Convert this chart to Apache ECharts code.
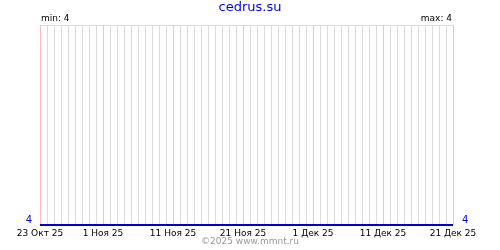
<!DOCTYPE html>
<html><head><meta charset="utf-8">
<script src="https://cdn.jsdelivr.net/npm/echarts@6/dist/echarts.min.js"></script>
<style>html,body{margin:0;padding:0;background:#fff}#c{width:500px;height:250px}</style>
</head><body><div id="c"></div>
<script>
const monthNames = ['Янв','Фев','Мар','Апр','Май','Июн','Июл','Авг','Сен','Окт','Ноя','Дек'];
const startDate = [2025, 9, 23]; // 23 Oct 2025
const dayCount = 60;             // 23 Oct .. 21 Dec
const categories = [];
for (let i = 0; i < dayCount; i++) {
  const d = new Date(Date.UTC(startDate[0], startDate[1], startDate[2] + i));
  categories.push(d.getUTCDate() + ' ' + monthNames[d.getUTCMonth()] + ' ' + String(d.getUTCFullYear()).slice(2));
}
const values = [4,4,4,4,4,4,4,4,4,4, 4,4,4,4,4,4,4,4,4,4, 4,4,4,4,4,4,4,4,4,4,
                4,4,4,4,4,4,4,4,4,4, 4,4,4,4,4,4,4,4,4,4, 4,4,4,4,4,4,4,4,4,4];
const tickLabels = ['23 Окт 25','1 Ноя 25','11 Ноя 25','21 Ноя 25','1 Дек 25','11 Дек 25','21 Дек 25'];
const titleText = 'cedrus.su';
const minText = 'min: 4';
const maxText = 'max: 4';
const footerText = '©2025 www.mmnt.ru';
const yMin = 4, yMax = 5;

const F = 'DejaVu Sans';
const isLabelDay = (i, name) => tickLabels.includes(name !== undefined ? name : categories[i]);
const chart = echarts.init(document.getElementById('c'), null, {renderer: 'canvas'});
chart.setOption({
  animation: false,
  backgroundColor: '#fff',
  grid: {left: 40, right: 47, top: 25, bottom: 25},
  graphic: [
    {type: 'text', left: 'center', top: 1, style: {text: titleText, fill: '#0000ee', font: '13px "' + F + '"'}},
    {type: 'text', left: 41, top: 14, style: {text: minText, fill: '#000', font: '9px "' + F + '"'}},
    {type: 'text', right: 48, top: 14, style: {text: maxText, fill: '#000', font: '9px "' + F + '"'}},
    {type: 'text', left: 'center', top: 237, style: {text: footerText, fill: '#999', font: '9px "' + F + '"'}}
  ],
  xAxis: [{
    type: 'category', data: categories, boundaryGap: false, position: 'bottom',
    axisLine: {show: false}, axisTick: {show: false},
    axisLabel: {
      interval: isLabelDay,
      showMinLabel: true, showMaxLabel: true, hideOverlap: false,
      color: '#000', fontFamily: F, fontSize: 9, margin: 4
    },
    splitLine: {show: true, interval: 0, lineStyle: {color: '#dcdcdc', width: 1}}
  }, {
    type: 'category', data: categories, boundaryGap: false, position: 'top',
    axisLine: {show: false}, axisTick: {show: false}, axisLabel: {show: false},
    splitLine: {show: true, interval: isLabelDay, lineStyle: {color: '#ffbcbc', width: 1}}
  }],
  yAxis: [
    {type: 'value', min: yMin, max: yMax, interval: 1, position: 'left',
     axisLine: {show: false}, axisTick: {show: false},
     axisLabel: {formatter: v => v === yMin ? String(v) : '', color: '#0000dd', fontFamily: F, fontSize: 10, margin: 8, verticalAlign: 'bottom', lineHeight: 10},
     splitLine: {show: true, lineStyle: {color: '#dcdcdc'}}},
    {type: 'value', min: yMin, max: yMax, interval: 1, position: 'right',
     axisLine: {show: false}, axisTick: {show: false},
     axisLabel: {formatter: v => v === yMin ? String(v) : '', color: '#0000dd', fontFamily: F, fontSize: 10, margin: 9, verticalAlign: 'bottom', lineHeight: 10},
     splitLine: {show: false}}
  ],
  series: [{
    type: 'line', data: values, xAxisIndex: 0, yAxisIndex: 0, showSymbol: false, symbol: 'none',
    lineStyle: {color: '#0000cc', width: 2}, z: 5
  }]
});
</script></body></html>
